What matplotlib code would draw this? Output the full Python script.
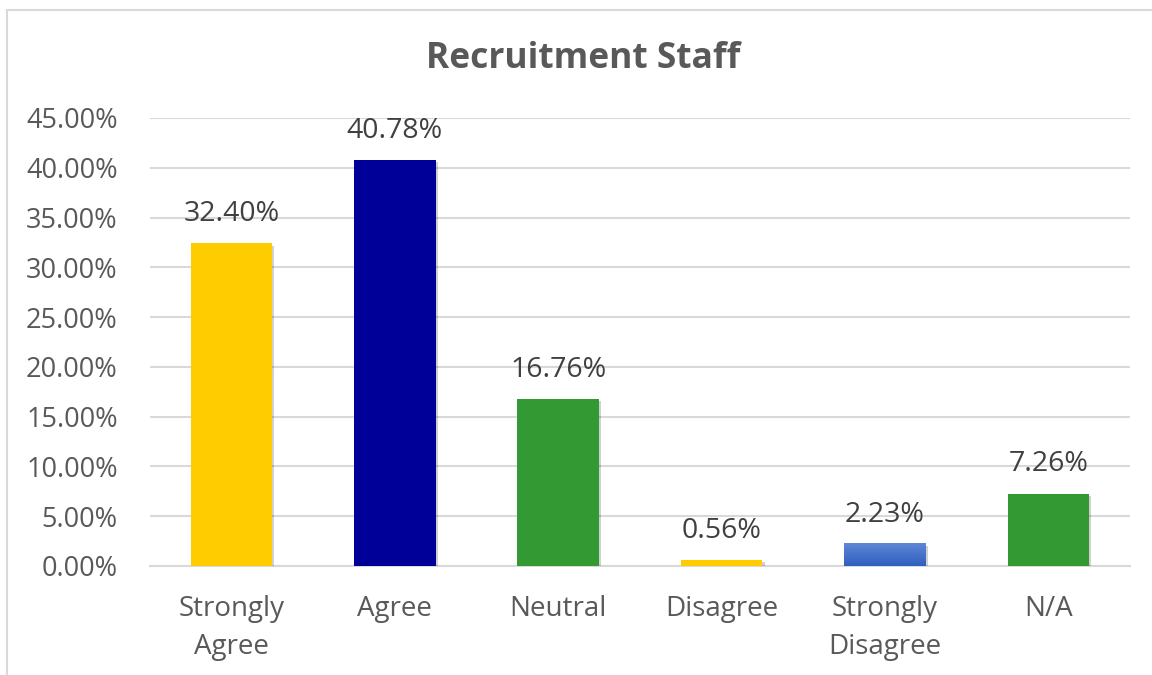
import numpy as np
from matplotlib import pyplot as plt
from matplotlib import patheffects as pe
from matplotlib.patches import Rectangle
from matplotlib.ticker import MultipleLocator, FuncFormatter

categories = ["Strongly\nAgree", "Agree", "Neutral", "Disagree", "Strongly\nDisagree", "N/A"]
values = [32.40, 40.78, 16.76, 0.56, 2.23, 7.26]
colors = ["#FFCC00", "#000099", "#339933", "#FFCC00", "#4472C4", "#339933"]

plt.rcParams['font.family'] = ['Open Sans', 'DejaVu Sans']

fig = plt.figure(figsize=(11.52, 6.75), dpi=100)
ax = fig.add_axes([0.130, 0.1615, 0.851, 0.6637])

# chart outline (only left/top are visible in the reference)
fig.patches.append(Rectangle((0.006, -0.2), 1.2, 1.185, transform=fig.transFigure,
                             fill=False, edgecolor="#D9D9D9", linewidth=1.5, zorder=0))

x = np.arange(len(categories))
shadow = [pe.SimplePatchShadow(offset=(1.5, -1.5), shadow_rgbFace="#000000", alpha=0.18), pe.Normal()]
bars = ax.bar(x, values, width=0.5, color=colors, zorder=3)
for b in bars:
    b.set_path_effects(shadow)

# gradient on the "Strongly Disagree" bar
b = bars[4]
grad = np.linspace(0, 1, 100).reshape(-1, 1)
cmap = plt.matplotlib.colors.LinearSegmentedColormap.from_list("g", ["#2F5EBE", "#5E88D6"])
ax.imshow(grad, cmap=cmap, origin="lower", aspect="auto", zorder=4,
          extent=[b.get_x(), b.get_x() + b.get_width(), 0, b.get_height()])

for xi, v in zip(x, values):
    ax.annotate("%.2f%%" % v, (xi, v), xytext=(0, 11), textcoords="offset points",
                ha="center", va="bottom", fontsize=20.5, color="#404040")

ax.set_xlim(-0.5, len(categories) - 0.5)
ax.set_ylim(0, 45)
ax.yaxis.set_major_locator(MultipleLocator(5))
ax.yaxis.set_major_formatter(FuncFormatter(lambda v, p: "%.2f%%" % v))
ax.set_xticks(x)
ax.set_xticklabels(categories, linespacing=1.45)
ax.tick_params(axis="y", length=0, pad=23, labelsize=19.5, labelcolor="#595959")
ax.tick_params(axis="x", length=0, pad=21, labelsize=20, labelcolor="#595959")
ax.grid(axis="y", color="#D9D9D9", linewidth=1.5, zorder=0)
ax.set_axisbelow(True)
for s in ["top", "right", "left"]:
    ax.spines[s].set_visible(False)
ax.spines["bottom"].set_color("#D9D9D9")
ax.spines["bottom"].set_linewidth(1.5)

fig.text(0.506, 0.913, "Recruitment Staff", ha="center", va="center",
         fontsize=25.5, fontweight="bold", color="#595959")

fig.savefig("out.png", dpi=100)
